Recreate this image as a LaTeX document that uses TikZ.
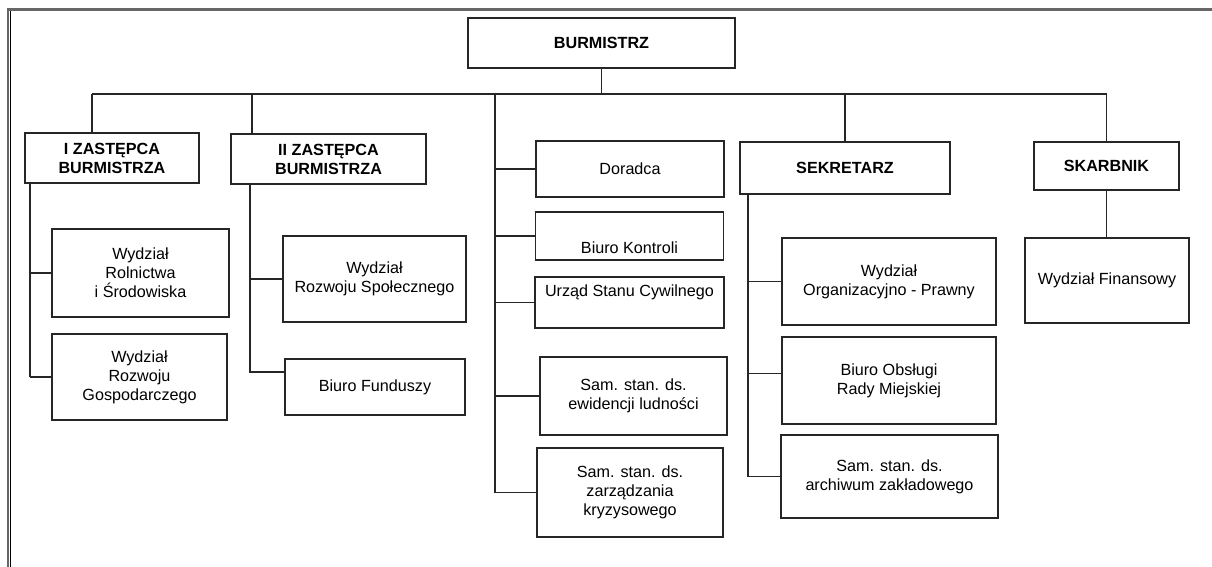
\documentclass[tikz,border=0pt]{standalone}
\usepackage{fontspec}
\setmainfont{Liberation Sans}
\usetikzlibrary{calc}

\begin{document}
\begin{tikzpicture}[x=0.02cm, y=-0.02cm, line width=0.75pt, color=black!85,
        size/.style 2 args={minimum width=#1*0.02cm, minimum height=#2*0.02cm},
        box/.style={draw=black!85, line width=0.9pt, inner sep=0pt, outer sep=0pt,
            align=center, text=black, font=\fontsize{9.2}{10.8}\selectfont},
        head/.style={box, font=\fontsize{9.2}{10.8}\selectfont\bfseries}]
        \useasboundingbox (0,0) rectangle (1212,567);
        % frame
        \draw[black!60, line width=1.7pt] (8,567) |- (1212,9.5);
        \draw[black, line width=0.7pt] (10.5,11) -- (10.5,567);
        % heads
        \node[head, size={267}{50}] (burm)  at (601.5,43)  {BURMISTRZ};
        \node[head, size={174}{50}] (zast1) at (112,158)   {I ZASTĘPCA\\BURMISTRZA};
        \node[head, size={195}{50}] (zast2) at (328.5,159) {II ZASTĘPCA\\BURMISTRZA};
        \node[head, size={210}{52}] (sekr)  at (845,168)   {SEKRETARZ};
        \node[head, size={145}{48}] (skarb) at (1106.5,166) {SKARBNIK};
        % units
        \foreach \n/\x/\y/\w/\h/\t in {
            rol/140.5/273/177/88/{Wydział\\Rolnictwa\\i Środowiska},
            gosp/139.5/377/175/86/{Wydział\\Rozwoju\\Gospodarczego},
            spol/374.5/279/183/86/{Wydział\\Rozwoju Społecznego},
            fund/375/387/180/56/{Biuro Funduszy},
            dor/630/169/188/56/{Doradca},
            ewid/633.5/396/187/78/{Sam. stan. ds.\\ewidencji ludności},
            kryz/630/492.5/186/89/{Sam. stan. ds.\\zarządzania\\kryzysowego},
            org/889/281.5/214/87/{Wydział\\Organizacyjno - Prawny},
            obsl/889/380.5/214/87/{Biuro Obsługi\\Rady Miejskiej},
            arch/889.5/476.5/217/83/{Sam. stan. ds.\\archiwum zakładowego},
            fin/1107/280.5/164/85/{Wydział Finansowy}} {
            \node[box, size={\w}{\h}] (\n) at (\x,\y) {\t};
        }
        \node[box, size={188}{48}, text height=19.5pt, text depth=0pt] (kontr) at (629.5,236) {Biuro Kontroli};
        \node[box, size={189}{51}, text height=6.7pt, text depth=14pt] (usc) at (629.5,302.5) {Urząd Stanu Cywilnego};
        % bus
        \coordinate (b1) at (92,94);
        \coordinate (b2) at (252,94);
        \coordinate (bs) at (495,94);
        \draw (b1) -- (skarb |- b1);
        \draw (burm) -- (burm |- b1);
        \draw (b1) -- (b1 |- zast1.north);
        \draw (b2) -- (b2 |- zast2.north);
        \draw (sekr) -- (sekr |- b1);
        \draw (skarb.north) -- (skarb |- b1);
        % staff
        \draw (bs) -- (bs |- kryz.west);
        \foreach \n in {dor,kontr,usc,ewid,kryz}
            \draw (bs |- \n.west) -- (\n.west);
        % I zastepca
        \coordinate (c1) at ($(zast1.south west)+(5,0)$);
        \draw (c1) -- (c1 |- gosp.west);
        \foreach \n in {rol,gosp}
            \draw (c1 |- \n.west) -- (\n.west);
        % II zastepca
        \coordinate (c2) at ($(zast2.south west)+(19,0)$);
        \coordinate (f) at ($(fund.north west)+(0,13)$);
        \draw (c2) -- (c2 |- f) -- (f);
        \draw (c2 |- spol.west) -- (spol.west);
        % sekretarz
        \coordinate (c3) at ($(sekr.south west)+(8,0)$);
        \coordinate (o) at ($(obsl.west)+(0,-7)$);
        \draw (c3) -- (c3 |- arch.west);
        \foreach \n in {org,arch}
            \draw (c3 |- \n.west) -- (\n.west);
        \draw (c3 |- o) -- (o);
        % skarbnik
        \draw (skarb.south) -- (skarb.south |- fin.north);
\end{tikzpicture}
\end{document}
